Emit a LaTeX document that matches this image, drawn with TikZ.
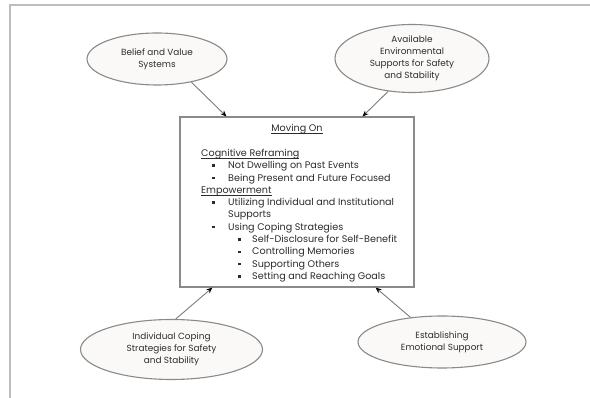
\documentclass[tikz,border=0pt]{standalone}
\usepackage{fontspec}
\setmainfont{Poppins}
\usetikzlibrary{shapes.geometric,arrows.meta,calc}
\definecolor{txtc}{HTML}{2C2C2C}
\definecolor{linec}{HTML}{8A8A8A}
\definecolor{framec}{HTML}{BDBDBD}
\definecolor{ellfill}{HTML}{FAF9F8}
\newcommand{\sqb}{\rule[0.2em]{2.4pt}{2.4pt}}
\newcommand{\ulx}[1]{\setbox0\hbox{#1}\rlap{\rule[-1.7pt]{\wd0}{0.55pt}}\box0}
\begin{document}
\begin{tikzpicture}[x=1pt,y=1pt,
  oval/.style={ellipse,draw=linec,line width=1.1pt,fill=ellfill,inner sep=0pt,
    text=txtc,align=center,font=\fontsize{8.9}{12}\selectfont},
  mainbox/.style={draw=linec,line width=1.1pt,fill=white,inner sep=0pt},
  txt/.style={inner sep=0pt,text=txtc,font=\fontsize{9.6}{12}\selectfont,anchor=base west},
  arr/.style={draw=linec!90!black,line width=0.9pt,-{Stealth[length=6pt,width=5pt,color=black,fill=black]}}
]
\useasboundingbox (0,0) rectangle (590,398);
\fill[white] (0,0) rectangle (590,398);
% outer frame (top and left)
\coordinate (ftr) at (590,393);
\coordinate (ftl) at (10,393);
\coordinate (fbl) at (10,0);
\draw[framec,line width=1.5pt] (ftr) -- (ftl) -- (fbl);

% ellipses
\node[oval,minimum width=140pt,minimum height=52pt] (bel) at (157,339) {Belief and Value\\Systems};
\node[oval,minimum width=154pt,minimum height=68pt] (avail) at (412,339.5) {Available\\Environmental\\Supports for Safety\\and Stability};
\node[oval,minimum width=182pt,minimum height=60pt] (indiv) at (171.5,48.5) {Individual Coping\\Strategies for Safety\\and Stability};
\node[oval,minimum width=168pt,minimum height=52pt] (estab) at (442,56) {Establishing\\Emotional Support};

% main box
\node[mainbox,minimum width=234pt,minimum height=170pt] (box) at (297,196) {};

% box text
\node[txt,anchor=base] (t0) at (297,266.5) {\ulx{Moving On}};
\node[txt] (t1) at (201,241.5) {\ulx{Cognitive Reframing}};
\node[txt] (t2) at (212,229.2) {\makebox[16pt][l]{\sqb}Not Dwelling on Past Events};
\node[txt] (t3) at (212,216.9) {\makebox[16pt][l]{\sqb}Being Present and Future Focused};
\node[txt] (t4) at (201,204.6) {\ulx{Empowerment}};
\node[txt] (t5) at (212,192.3) {\makebox[16pt][l]{\sqb}Utilizing Individual and Institutional};
\node[txt] (t6) at (228,180.0) {Supports};
\node[txt] (t7) at (212,167.7) {\makebox[16pt][l]{\sqb}Using Coping Strategies};
\node[txt] (t8) at (238,155.4) {\makebox[14pt][l]{\sqb}Self-Disclosure for Self-Benefit};
\node[txt] (t9) at (238,143.1) {\makebox[14pt][l]{\sqb}Controlling Memories};
\node[txt] (t10) at (238,130.8) {\makebox[14pt][l]{\sqb}Supporting Others};
\node[txt] (t11) at (238,118.5) {\makebox[14pt][l]{\sqb}Setting and Reaching Goals};

% connectors
\draw[arr] (bel.-34) -- ([xshift=47pt]box.north west);
\draw[arr] (avail.234) -- ([xshift=-52pt]box.north east);
\draw[arr] (indiv.82) -- ([xshift=33pt]box.south west);
\draw[arr] (estab.142) -- ([xshift=-39pt]box.south east);
\end{tikzpicture}
\end{document}
